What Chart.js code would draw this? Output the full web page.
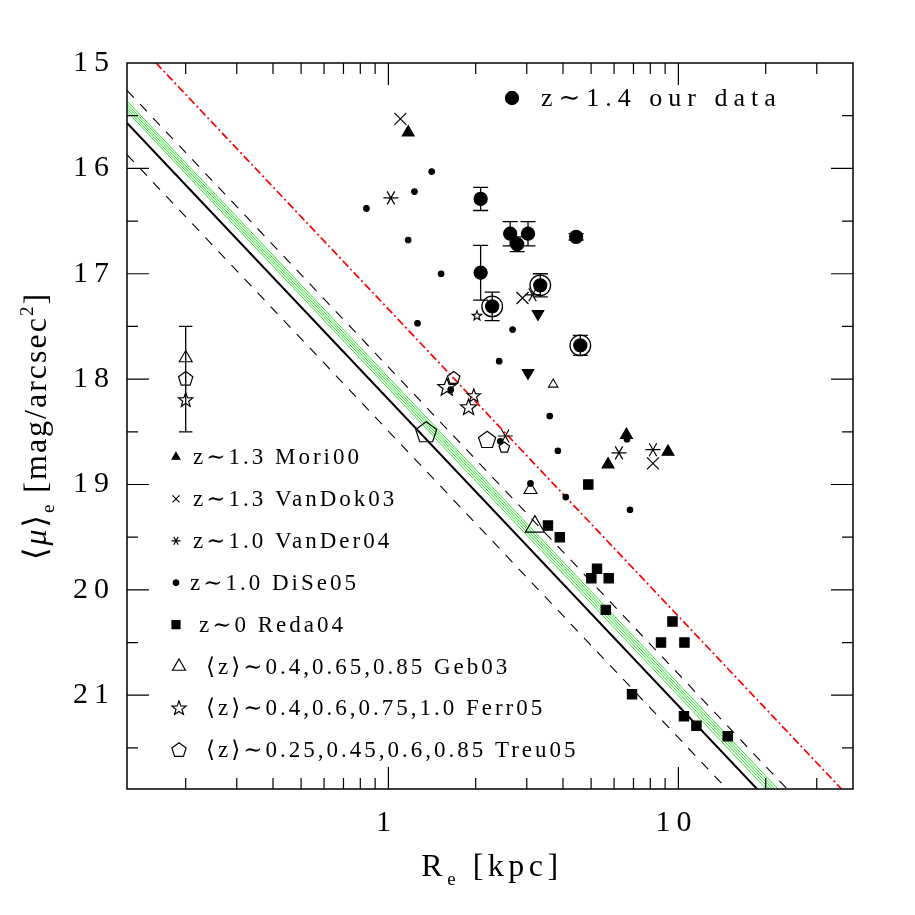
<!DOCTYPE html>
<html>
<head>
<meta charset="utf-8">
<script src="https://cdn.jsdelivr.net/npm/chart.js@4.4.1/dist/chart.umd.min.js"></script>
<style>
  html, body { margin: 0; padding: 0; background: #fff; }
  canvas { display: block; }
</style>
</head>
<body>
<canvas id="chart" width="915" height="915"></canvas>
<script>
// Values: R_e in kpc, <mu>_e in mag/arcsec^2

// z~1.4 our data (big filled circles, with errors)
const ourR   = [2.08, 2.63, 3.03, 2.78, 4.44, 2.08, 3.34, 2.28, 4.59];
const ourMu  = [16.29, 16.62, 16.62, 16.72, 16.65, 16.99, 17.11, 17.31, 17.68];
const ourErr = [0.11, 0.115, 0.115, 0.07, 0.03, 0.26, 0.11, 0.135, 0.095];
const ourRinged = [6, 7, 8];

// z~1.3 Mori00
const moriR  = [1.17, 6.62, 5.72, 9.21];
const moriMu = [15.66, 18.53, 18.81, 18.69];

// unlabelled filled down triangles
const downR  = [3.28, 3.03];
const downMu = [17.38, 17.94];

// z~1.3 VanDok03
const vanDokR  = [1.10, 2.90, 8.17];
const vanDokMu = [15.53, 17.23, 18.80];

// z~1.0 VanDer04
const vanDerR  = [1.02, 3.14, 2.53, 6.24, 8.17];
const vanDerMu = [16.28, 17.20, 18.54, 18.70, 18.67];

// z~1.0 DiSe05
const diSeR  = [0.84, 1.23, 1.41, 1.17, 1.52, 1.26, 2.68, 2.41, 3.60, 1.64, 3.84, 2.43, 3.09, 4.09, 6.65, 6.81];
const diSeMu = [16.38, 16.22, 16.03, 16.68, 17.00, 17.47, 17.53, 17.83, 18.35, 18.10, 18.68, 18.59, 18.99, 19.12, 18.57, 19.24];

// z~0 Reda04
const redaR  = [4.89, 3.55, 3.90, 5.24, 5.01, 5.75, 5.62, 9.54, 8.71, 10.49, 6.92, 10.45, 11.54, 14.79];
const redaMu = [19.00, 19.39, 19.50, 19.80, 19.89, 19.89, 20.19, 20.30, 20.50, 20.50, 20.99, 21.20, 21.29, 21.39];

// <z>~0.4,0.65,0.85 Geb03
const gebR  = [3.70, 3.09, 3.20];
const gebMu = [18.05, 19.05, 19.40];
const gebZ  = [0.85, 0.65, 0.4];

// <z>~0.4,0.6,0.75,1.0 Ferr05
const ferrR  = [1.59, 1.89, 1.97, 2.02];
const ferrMu = [18.08, 18.27, 18.16, 17.40];
const ferrZ  = [0.4, 0.6, 0.75, 1.0];

// <z>~0.25,0.45,0.6,0.85 Treu05
const treuR  = [1.35, 2.19, 1.68, 2.51];
const treuMu = [18.51, 18.58, 17.99, 18.65];
const treuZ  = [0.25, 0.45, 0.6, 0.85];

// typical error of the literature samples
const sampleR   = 0.2;
const sampleGeb = 17.8;
const sampleTreu = 18.0;
const sampleFerr = 18.2;
const sampleErr = 0.5;

// relations (end points read where they leave the frame)
const solidR  = [0.1255, 18.67];
const solidMu = [15.57, 21.89];
const dashHiR  = [0.1255, 23.7];
const dashHiMu = [15.26, 21.89];
const dashLoR  = [0.1255, 14.7];
const dashLoMu = [15.87, 21.89];
const redR  = [0.158, 36.5];
const redMu = [15.0, 21.89];
const greenStartMu = [15.46, 15.435, 15.41, 15.385, 15.36];
const greenEndR    = [20.1, 20.6, 21.1, 21.55, 22.05];

// axes
const xMin = 0.1255, xMax = 40;
const yMin = 15, yMax = 21.89;
const yTickLabels = [15, 16, 17, 18, 19, 20, 21];
const xTickLabels = [1, 10];

// ---------- styling ----------
const FONT = "'Liberation Serif', 'DejaVu Serif', serif";
const gebSize  = { 0.4: 11, 0.65: 7.5, 0.85: 5.4 };
const ferrSize = { 0.4: 9.5, 0.6: 8.5, 0.75: 7, 1.0: 5 };
const treuSize = { 0.25: 11, 0.45: 9, 0.6: 6.5, 0.85: 5.5 };

function shapePath(ctx, shape, r) {
  ctx.beginPath();
  if (shape === 'pentagon') {
    for (let k = 0; k < 5; k++) {
      const a = -Math.PI / 2 + k * 2 * Math.PI / 5;
      k ? ctx.lineTo(r * Math.cos(a), r * Math.sin(a)) : ctx.moveTo(r * Math.cos(a), r * Math.sin(a));
    }
    ctx.closePath();
  } else if (shape === 'star') {
    for (let k = 0; k < 10; k++) {
      const rr = k % 2 ? r * 0.42 : r;
      const a = -Math.PI / 2 + k * Math.PI / 5;
      k ? ctx.lineTo(rr * Math.cos(a), rr * Math.sin(a)) : ctx.moveTo(rr * Math.cos(a), rr * Math.sin(a));
    }
    ctx.closePath();
  } else if (shape === 'triangle') {
    for (let k = 0; k < 3; k++) {
      const a = -Math.PI / 2 + k * 2 * Math.PI / 3;
      k ? ctx.lineTo(r * Math.cos(a), r * Math.sin(a)) : ctx.moveTo(r * Math.cos(a), r * Math.sin(a));
    }
    ctx.closePath();
  } else if (shape === 'asterisk') {
    for (let k = 0; k < 3; k++) {
      const a = k * Math.PI / 3;
      ctx.moveTo(r * Math.cos(a), r * Math.sin(a));
      ctx.lineTo(-r * Math.cos(a), -r * Math.sin(a));
    }
  } else if (shape === 'cross') {
    const d = r * Math.SQRT1_2;
    ctx.moveTo(-d, -d); ctx.lineTo(d, d);
    ctx.moveTo(-d, d); ctx.lineTo(d, -d);
  } else if (shape === 'square') {
    ctx.rect(-r, -r, 2 * r, 2 * r);
  } else {
    ctx.arc(0, 0, r, 0, Math.PI * 2);
  }
}

function drawMarker(ctx, shape, x, y, r, filled, lw) {
  ctx.save();
  ctx.translate(x, y);
  shapePath(ctx, shape, r);
  ctx.fillStyle = '#000';
  ctx.strokeStyle = '#000';
  ctx.lineWidth = lw || 1.1;
  if (filled) ctx.fill();
  ctx.stroke();
  ctx.restore();
}

const pts = (xs, ys) => xs.map((x, i) => ({ x: x, y: ys[i] }));
const spaced = v => String(v).split('').join('\u2009');

function lineSet(data, color, width, dash) {
  return {
    data: data, showLine: true, pointRadius: 0, borderColor: color,
    borderWidth: width, borderDash: dash || [], order: 10, clip: 0,
  };
}

function pointSet(data, style, radius, filled, extra) {
  return Object.assign({
    data: data, showLine: false, pointStyle: style, pointRadius: radius,
    pointBackgroundColor: filled ? '#000' : 'rgba(0,0,0,0)',
    pointBorderColor: '#000', pointBorderWidth: 1.1, order: 0,
  }, extra || {});
}

// shapes Chart.js has no built-in style for: the points are placed by the
// chart (radius 0) and the outline is stroked at each element's position
function shapeSet(data, shape, sizes) {
  return { data: data, showLine: false, pointRadius: 0, order: 0, shape: shape, sizes: sizes };
}

const datasets = [
  lineSet(pts(redR, redMu), '#ff0000', 1.7, [8, 3, 2, 3]),
  lineSet(pts(dashHiR, dashHiMu), '#000', 1.1, [10, 9]),
  lineSet(pts(dashLoR, dashLoMu), '#000', 1.1, [10, 9]),
  ...greenStartMu.map((mu, i) =>
    lineSet([{ x: xMin, y: mu }, { x: greenEndR[i], y: yMax }], '#2fe02f', 1)),
  lineSet(pts(solidR, solidMu), '#000', 2),

  pointSet(pts(diSeR, diSeMu), 'circle', 2.8, true),
  pointSet(pts(moriR, moriMu), 'triangle', 6.9, true),
  pointSet(pts(downR, downMu), 'triangle', 6.7, true, { pointRotation: 180 }),
  pointSet(pts(vanDokR, vanDokMu), 'crossRot', 8.5, false, { pointBorderWidth: 1.2 }),
  shapeSet(pts(vanDerR, vanDerMu), 'asterisk', vanDerR.map(() => 7.5)),
  pointSet(pts(redaR, redaMu), 'rect', 6.6, true),
  pointSet(pts(gebR, gebMu), 'triangle', gebZ.map(z => gebSize[z]), false),
  shapeSet(pts(ferrR, ferrMu), 'star', ferrZ.map(z => ferrSize[z])),
  shapeSet(pts(treuR, treuMu), 'pentagon', treuZ.map(z => treuSize[z])),
  pointSet([{ x: sampleR, y: sampleGeb }], 'triangle', 7.5, false),
  shapeSet([{ x: sampleR, y: sampleTreu }], 'pentagon', [7.5]),
  shapeSet([{ x: sampleR, y: sampleFerr }], 'star', [7.5]),
  pointSet(pts(ourR, ourMu), 'circle', 6.6, true),
  pointSet(ourRinged.map(i => ({ x: ourR[i], y: ourMu[i] })), 'circle', 10.3, false, { pointBorderWidth: 1.3 }),
];

function drawErrorBar(ctx, xs, ys, r, mu, err, half) {
  const px = xs.getPixelForValue(r);
  const y1 = ys.getPixelForValue(mu - err);
  const y2 = ys.getPixelForValue(mu + err);
  ctx.beginPath();
  ctx.moveTo(px, y1); ctx.lineTo(px, y2);
  ctx.moveTo(px - half, y1); ctx.lineTo(px + half, y1);
  ctx.moveTo(px - half, y2); ctx.lineTo(px + half, y2);
  ctx.stroke();
}

// draws a run of text pieces (subscripts/superscripts) centred on x=0 along the baseline
function drawRich(ctx, parts, spacing) {
  let w = 0;
  parts.forEach(p => {
    ctx.font = (p.italic ? 'italic ' : '') + p.size + 'px ' + FONT;
    ctx.letterSpacing = spacing + 'px';
    p.w = ctx.measureText(p.t).width;
    w += p.w;
  });
  let x = -w / 2;
  parts.forEach(p => {
    ctx.font = (p.italic ? 'italic ' : '') + p.size + 'px ' + FONT;
    ctx.letterSpacing = spacing + 'px';
    ctx.fillText(p.t, x, p.dy || 0);
    x += p.w;
  });
}

const legendRows = [
  { shape: 'triangle', r: 4.5, filled: true, text: 'z\u223C1.3 Mori00', tx: 193 },
  { shape: 'cross', r: 5, filled: false, text: 'z\u223C1.3 VanDok03', tx: 193 },
  { shape: 'asterisk', r: 4.5, filled: false, text: 'z\u223C1.0 VanDer04', tx: 193 },
  { shape: 'circle', r: 2.8, filled: true, text: 'z\u223C1.0 DiSe05', tx: 190 },
  { shape: 'square', r: 4, filled: true, text: 'z\u223C0 Reda04', tx: 199 },
  { shape: 'triangle', r: 7.5, filled: false, text: '\u27E8z\u27E9\u223C0.4,0.65,0.85 Geb03', tx: 206 },
  { shape: 'star', r: 7.5, filled: false, text: '\u27E8z\u27E9\u223C0.4,0.6,0.75,1.0 Ferr05', tx: 206 },
  { shape: 'pentagon', r: 7.5, filled: false, text: '\u27E8z\u27E9\u223C0.25,0.45,0.6,0.85 Treu05', tx: 206 },
];

const decorations = {
  id: 'decorations',
  afterDatasetsDraw(chart) {
    const ctx = chart.ctx, xs = chart.scales.x, ys = chart.scales.y;
    ctx.save();
    chart.data.datasets.forEach((ds, i) => {
      if (!ds.shape) return;
      chart.getDatasetMeta(i).data.forEach((el, j) => {
        drawMarker(ctx, ds.shape, el.x, el.y, ds.sizes[j], false, 1.2);
      });
    });
    ctx.strokeStyle = '#000';
    ctx.lineWidth = 1.3;
    ourR.forEach((r, i) => drawErrorBar(ctx, xs, ys, r, ourMu[i], ourErr[i], 7.5));
    drawErrorBar(ctx, xs, ys, sampleR, sampleTreu, sampleErr, 6.7);
    ctx.restore();
  },
  afterDraw(chart) {
    const ctx = chart.ctx, xs = chart.scales.x, ys = chart.scales.y;
    const a = chart.chartArea;
    ctx.save();
    ctx.strokeStyle = '#000';
    ctx.lineWidth = 1.5;
    ctx.strokeRect(a.left, a.top, a.right - a.left, a.bottom - a.top);

    // inward ticks on all four sides
    ctx.lineWidth = 1.2;
    ctx.beginPath();
    for (let d = 0.1; d <= 10; d *= 10) {
      for (let m = 1; m <= 9; m++) {
        const v = m * d;
        if (v <= xMin || v >= xMax) continue;
        const px = xs.getPixelForValue(v);
        const len = m === 1 ? 22 : 11;
        ctx.moveTo(px, a.bottom); ctx.lineTo(px, a.bottom - len);
        ctx.moveTo(px, a.top); ctx.lineTo(px, a.top + len);
      }
    }
    for (let v = 15.5; v < yMax; v += 0.5) {
      const py = ys.getPixelForValue(v);
      const len = v % 1 === 0 ? 22 : 11;
      ctx.moveTo(a.left, py); ctx.lineTo(a.left + len, py);
      ctx.moveTo(a.right, py); ctx.lineTo(a.right - len, py);
    }
    ctx.stroke();

    // axis titles
    ctx.fillStyle = '#000';
    ctx.textBaseline = 'alphabetic';
    ctx.textAlign = 'left';
    ctx.save();
    ctx.translate((a.left + a.right) / 2 + 2, 876);
    drawRich(ctx, [
      { t: 'R', size: 32 },
      { t: 'e', size: 19, dy: 9 },
      { t: ' [kpc]', size: 32 },
    ], 4.5);
    ctx.restore();

    ctx.save();
    ctx.translate(46, (a.top + a.bottom) / 2);
    ctx.rotate(-Math.PI / 2);
    drawRich(ctx, [
      { t: '\u27E8', size: 32 },
      { t: '\u03BC', size: 32, italic: true },
      { t: '\u27E9', size: 32 },
      { t: 'e', size: 19, dy: 8 },
      { t: ' [mag/arcsec', size: 32 },
      { t: '2', size: 19, dy: -13 },
      { t: ']', size: 32 },
    ], 2);
    ctx.restore();

    // legend: our data
    drawMarker(ctx, 'circle', 512, 98, 6.6, true);
    ctx.font = '26px ' + FONT;
    ctx.letterSpacing = '6px';
    ctx.textBaseline = 'middle';
    ctx.fillText('z\u223C1.4 our data', 541, 99);

    // legend: literature samples
    ctx.font = '23px ' + FONT;
    ctx.letterSpacing = '3px';
    legendRows.forEach((row, i) => {
      const y = 457 + i * 41.9;
      const mx = row.filled || row.shape === 'cross' || row.shape === 'asterisk' ? 176 : 179;
      drawMarker(ctx, row.shape, mx, y, row.r, row.filled, 1.2);
      ctx.fillText(row.text, row.tx, y + 1);
    });
    ctx.restore();
  },
};

new Chart(document.getElementById('chart'), {
  type: 'scatter',
  data: { datasets: datasets },
  plugins: [decorations],
  options: {
    responsive: false,
    animation: false,
    events: [],
    layout: { padding: { left: 0, top: 63, right: 62, bottom: 0 } },
    plugins: { legend: { display: false }, tooltip: { enabled: false } },
    scales: {
      x: {
        type: 'logarithmic',
        min: xMin,
        max: xMax,
        grid: { display: false, drawTicks: false },
        border: { display: false },
        afterBuildTicks: s => { s.ticks = xTickLabels.map(v => ({ value: v })); },
        afterFit: s => { s.height = 126; },
        ticks: {
          color: '#000',
          font: { family: FONT, size: 30 },
          padding: 16,
          labelOffset: -5,
          maxRotation: 0,
          autoSkip: false,
          callback: v => spaced(v),
        },
      },
      y: {
        type: 'linear',
        reverse: true,
        min: yMin,
        max: yMax,
        grid: { display: false, drawTicks: false },
        border: { display: false },
        afterBuildTicks: s => { s.ticks = yTickLabels.map(v => ({ value: v })); },
        afterFit: s => { s.width = 127; },
        ticks: {
          color: '#000',
          font: { family: FONT, size: 30 },
          padding: 18,
          autoSkip: false,
          callback: v => spaced(v),
        },
      },
    },
  },
});
</script>
</body>
</html>
